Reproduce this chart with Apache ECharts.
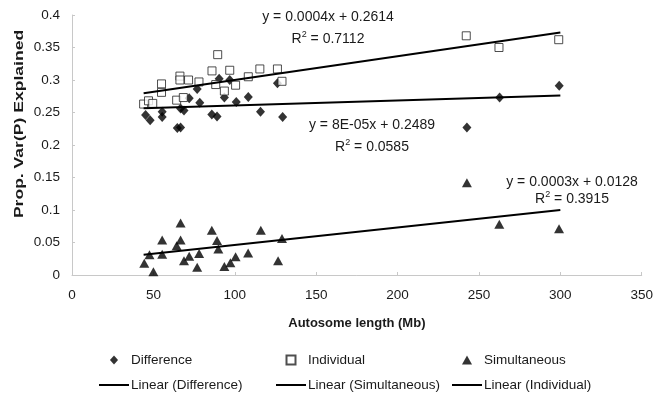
<!DOCTYPE html>
<html>
<head>
<meta charset="utf-8">
<script src="https://cdn.jsdelivr.net/npm/echarts@6/dist/echarts.min.js"></script>
<style>
html,body{margin:0;padding:0;background:#fff;}
#c{width:656px;height:393px;}
</style>
</head>
<body>
<div id="c"></div>
<script>
// ---- data ----
const xTicks = [0, 50, 100, 150, 200, 250, 300, 350];
const yTicks = [0, 0.05, 0.1, 0.15, 0.2, 0.25, 0.3, 0.35, 0.4];

const difX = [45.2, 48, 55.4, 55.4, 64.7, 66.7, 66.7, 68.8, 72, 76.9, 78.5, 85.9, 89.1, 90.4, 93.6, 96.9, 100.9, 108.3, 115.8, 126.2, 129.4, 242.6, 262.7, 299.3];
const difY = [0.246, 0.238, 0.251, 0.243, 0.226, 0.227, 0.256, 0.253, 0.272, 0.286, 0.265, 0.247, 0.244, 0.302, 0.273, 0.300, 0.266, 0.274, 0.251, 0.295, 0.243, 0.227, 0.273, 0.291];

const indX = [44, 47, 49.6, 55, 55, 64.3, 66.3, 66.3, 68.4, 71.6, 78, 86, 89.5, 88.3, 93.6, 96.9, 100.5, 108.3, 115.4, 126.2, 129, 242.2, 262.3, 299];
const indY = [0.263, 0.268, 0.264, 0.294, 0.281, 0.269, 0.306, 0.300, 0.273, 0.300, 0.297, 0.314, 0.339, 0.293, 0.283, 0.315, 0.292, 0.305, 0.317, 0.317, 0.298, 0.368, 0.350, 0.362];

const simX = [44.4, 47.6, 50, 55.4, 55.4, 64.3, 66.7, 66.7, 68.8, 72, 78.1, 76.9, 85.9, 89.1, 89.9, 93.6, 97.3, 100.5, 108.2, 116, 126.6, 129, 242.6, 262.5, 299.2];
const simY = [0.018, 0.031, 0.005, 0.054, 0.032, 0.045, 0.080, 0.054, 0.022, 0.029, 0.033, 0.012, 0.069, 0.053, 0.040, 0.013, 0.019, 0.028, 0.034, 0.069, 0.022, 0.056, 0.142, 0.078, 0.071];

const trendX = [44, 300];
const difTrend = [0.2564, 0.276];
const indTrend = [0.2795, 0.373];
const simTrend = [0.031, 0.100];

const seriesNames = ['Difference', 'Individual', 'Simultaneous', 'Linear (Difference)', 'Linear (Simultaneous)', 'Linear (Individual)'];
const xTitle = 'Autosome length (Mb)';
const yTitle = 'Prop. Var(P) Explained';
const eqText = [
  ['y = 0.0004x + 0.2614', '0.7112'],
  ['y = 8E-05x + 0.2489', '0.0585'],
  ['y = 0.0003x + 0.0128', '0.3915']
];

// ---- build ----
const zip = (xs, ys) => xs.map((x, i) => [x, ys[i]]);
const FONT = '"Liberation Sans", Arial, sans-serif';
const TXT = '#1a1a1a';

const chart = echarts.init(document.getElementById('c'), null, {renderer: 'canvas'});

function rText(eq, r2, cx, cy, cy2) {
  return [
    {type: 'text', x: cx, y: cy, style: {text: eq, x: 0, y: 0, align: 'center', verticalAlign: 'middle', font: '14px ' + FONT, fill: TXT}},
    {type: 'text', x: cx, y: cy2, style: {
      text: '{a|R}{s|2}{a| = ' + r2 + '}', align: 'center', verticalAlign: 'middle',
      fill: TXT,
      rich: {
        a: {fontSize: 14, fontFamily: FONT, color: TXT, lineHeight: 16, verticalAlign: 'bottom'},
        s: {fontSize: 9, fontFamily: FONT, color: TXT, lineHeight: 16, verticalAlign: 'top'}
      }
    }}
  ];
}

const ICON_DIAMOND = 'path://M4.5,0L9,5L4.5,10L0,5Z';
const ICON_SQUARE = 'path://M0,0L8,0L8,8L0,8Z';
const ICON_TRIANGLE = 'path://M5,0L10,9L0,9Z';

const legendCommon = {
  orient: 'vertical', itemWidth: 30, itemHeight: 9, itemGap: 11, top: 353, padding: 0,
  symbolKeepAspect: true,
  textStyle: {fontFamily: FONT, fontSize: 13.5, color: TXT, lineHeight: 12, padding: [0, 0, 0, -3]},
  inactiveColor: '#000'
};
const lineItem = name => ({name: name, itemStyle: {opacity: 0}});
const dotItem = (name, icon) => ({name: name, icon: icon});

chart.setOption({
  animation: false,
  backgroundColor: '#fff',
  grid: {left: 72, right: 11, top: 15, bottom: 118, containLabel: false},
  xAxis: {
    type: 'value', min: 0, max: 350, interval: 50,
    name: xTitle, nameLocation: 'middle', nameGap: 42,
    nameTextStyle: {fontFamily: FONT, fontSize: 13, fontWeight: 'bold', color: TXT},
    axisLine: {show: true, lineStyle: {color: '#c8c8c8', width: 1}},
    axisTick: {show: true, inside: true, length: 3, lineStyle: {color: '#c8c8c8'}},
    axisLabel: {fontFamily: FONT, fontSize: 13.5, color: TXT, margin: 13,
      formatter: v => xTicks.includes(v) ? String(v) : ''},
    splitLine: {show: false}
  },
  yAxis: {
    type: 'value', min: 0, max: 0.4, interval: 0.05,
    axisLine: {show: true, lineStyle: {color: '#c8c8c8', width: 1}},
    axisTick: {show: true, inside: true, length: 3, lineStyle: {color: '#c8c8c8'}},
    axisLabel: {fontFamily: FONT, fontSize: 13.5, color: TXT, margin: 12,
      formatter: v => { const t = yTicks.find(k => Math.abs(k - v) < 1e-9); return t === undefined ? '' : String(t); }},
    splitLine: {show: false}
  },
  legend: [
    Object.assign({left: 98, data: [dotItem(seriesNames[0], ICON_DIAMOND), lineItem(seriesNames[3])]}, legendCommon),
    Object.assign({left: 275, data: [dotItem(seriesNames[1], ICON_SQUARE), lineItem(seriesNames[4])]}, legendCommon),
    Object.assign({left: 451, data: [dotItem(seriesNames[2], ICON_TRIANGLE), lineItem(seriesNames[5])]}, legendCommon)
  ],
  series: [
    {name: seriesNames[0], type: 'scatter', symbol: 'diamond', symbolSize: [9, 10],
      itemStyle: {color: '#000'}, data: zip(difX, difY), z: 3},
    {name: seriesNames[1], type: 'scatter', symbol: 'rect', symbolSize: 8,
      itemStyle: {color: '#fff', borderColor: '#222', borderWidth: 1}, data: zip(indX, indY), z: 3},
    {name: seriesNames[2], type: 'scatter', symbol: 'triangle', symbolSize: [10, 9],
      itemStyle: {color: '#000'}, data: zip(simX, simY), z: 3},
    {name: seriesNames[3], type: 'line', symbol: 'none', lineStyle: {color: '#000', width: 2},
      itemStyle: {color: '#000'}, data: zip(trendX, difTrend), z: 4},
    {name: seriesNames[4], type: 'line', symbol: 'none', lineStyle: {color: '#000', width: 2},
      itemStyle: {color: '#000'}, data: zip(trendX, simTrend), z: 4},
    {name: seriesNames[5], type: 'line', symbol: 'none', lineStyle: {color: '#000', width: 2},
      itemStyle: {color: '#000'}, data: zip(trendX, indTrend), z: 4}
  ],
  graphic: [].concat(
    [{type: 'text', x: 19, y: 124, rotation: Math.PI / 2, scaleX: 1.3,
      style: {text: yTitle, align: 'center', verticalAlign: 'middle', font: 'bold 13.5px ' + FONT, fill: TXT}}],
    rText(eqText[0][0], eqText[0][1], 328, 17, 38),
    rText(eqText[1][0], eqText[1][1], 372, 125, 146),
    rText(eqText[2][0], eqText[2][1], 572, 182, 198)
  )
});
</script>
</body>
</html>
